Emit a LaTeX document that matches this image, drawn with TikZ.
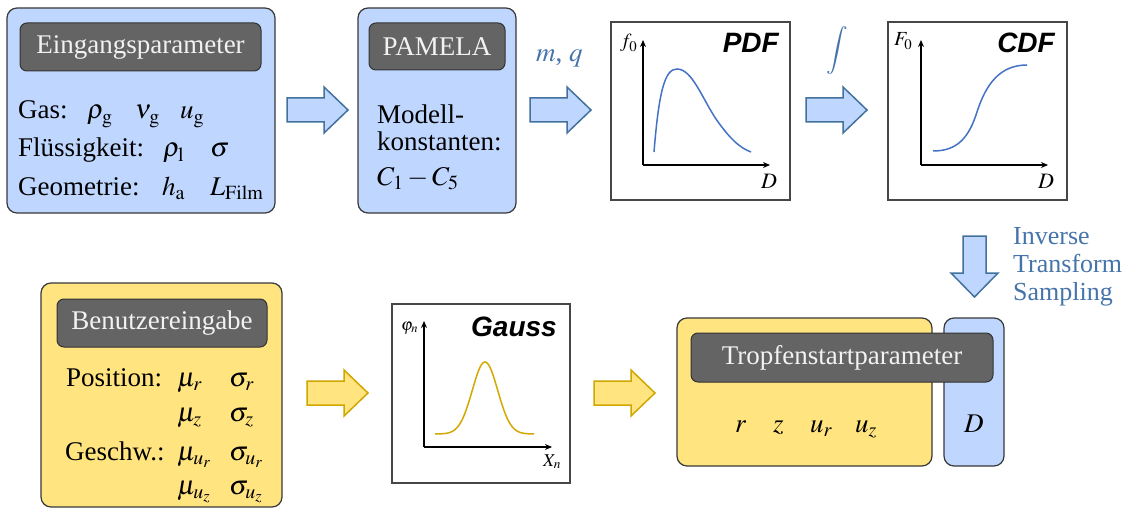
\documentclass[tikz,border=0pt]{standalone}
\usepackage{mathptmx}
\usepackage[no-math]{fontspec}
\setmainfont{Liberation Serif}
\setsansfont{Liberation Sans}
\usetikzlibrary{arrows.meta}
\definecolor{bfill}{RGB}{191,215,255}
\definecolor{bline}{RGB}{65,113,156}
\definecolor{yfill}{RGB}{255,228,128}
\definecolor{yline}{RGB}{208,166,0}
\definecolor{hfill}{RGB}{100,100,100}
\definecolor{tblue}{RGB}{70,116,170}
\definecolor{cblue}{RGB}{68,114,196}
\definecolor{cgold}{RGB}{212,168,0}
\newcommand\rblockarrow[3]{\draw[#1] (#2,#3-12) -- ++(37,0) -- ++(0,-11) -- ++(24,23) -- ++(-24,23) -- ++(0,-11) -- ++(-37,0) -- cycle;}
\tikzset{
  big/.style={font=\fontsize{27}{30}\selectfont},
  panel/.style={draw=black!78, line width=1.2pt, rounded corners=10pt, inner sep=0pt, outer sep=0pt},
  bluepanel/.style={panel, fill=bfill},
  yellowpanel/.style={panel, fill=yfill},
  header/.style={draw=black!80, line width=1pt, fill=hfill, rounded corners=7pt, inner sep=0pt, text=white!95!black, font=\fontsize{27}{30}\selectfont},
  plotbox/.style={draw=black!72, line width=1.2pt, fill=white, inner sep=0pt},
  txt/.style={big, anchor=base west, inner sep=0pt},
  axis/.style={line width=1.1pt, -{Stealth[length=7pt,width=6pt]}},
  bluearrow/.style={draw=bline, fill=bfill, line width=1.5pt, line join=miter},
  yellowarrow/.style={draw=yline, fill=yfill, line width=1.5pt, line join=miter},
  plottitle/.style={font=\fontsize{28}{30}\selectfont\sffamily\bfseries\itshape, anchor=base east, inner sep=0pt},
  axlabel/.style={font=\fontsize{20}{24}\selectfont, anchor=base west, inner sep=0pt},
  bluetxt/.style={font=\fontsize{26}{28}\selectfont\rmfamily, text=tblue, anchor=base west, inner sep=0pt}
}
\begin{document}
\begin{tikzpicture}[x=1pt, y=-1pt]
\useasboundingbox (0,0) rectangle (1135,508);

% ---------- Eingangsparameter ----------
\node[bluepanel, minimum width=268pt, minimum height=205pt] (pin) at (141,110.5) {};
\node[header, minimum width=241pt, minimum height=48pt] (hin) at (140.5,47) {Eingangsparameter};
\node[txt] (gas) at (18,119) {\makebox[69pt][l]{Gas:}\makebox[48pt][l]{$\rho_{\mathrm{g}}$}\makebox[45pt][l]{$\nu_{\mathrm{g}}$}$u_{\mathrm{g}}$};
\node[txt] (fl) at (18,157) {\makebox[145pt][l]{Flüssigkeit:}\makebox[47pt][l]{$\rho_{\mathrm{l}}$}$\sigma$};
\node[txt] (geo) at (18,195) {\makebox[144pt][l]{Geometrie:}\makebox[48pt][l]{$h_{\mathrm{a}}$}$L_{\mathrm{Film}}$};

% ---------- PAMELA ----------
\node[bluepanel, minimum width=158pt, minimum height=205pt] (ppa) at (437,110.5) {};
\node[header, minimum width=136pt, minimum height=47pt] (hpa) at (437,46.5) {PAMELA};
\node[txt] (mod) at (377,124) {Modell-};
\node[txt] (kon) at (377,150) {konstanten:};
\node[txt] (cc) at (377,185) {$C_1 - C_5$};

% ---------- arrows top ----------
\rblockarrow{bluearrow}{287}{110}
\rblockarrow{bluearrow}{530}{110}
\rblockarrow{bluearrow}{806}{110}
\node[bluetxt, font=\fontsize{27}{30}\selectfont] (mq) at (536,62) {$m$, $q$};
\node[text=tblue, inner sep=0pt, font=\fontsize{24}{26}\selectfont] (int) at (837,50) {$\displaystyle\int$};

% ---------- PDF ----------
\node[plotbox, minimum width=179pt, minimum height=178pt] (pdf) at (700.5,111) {};
\coordinate (po) at (643,165);
\coordinate (py) at (643,40);
\coordinate (px) at (770,165);
\draw[axis] (po) -- (py);
\draw[axis] (po) -- (px);
\node[plottitle] (pdft) at (779,53) {PDF};
\node[axlabel] (f0) at (620,48) {$f_0$};
\node[axlabel, font=\fontsize{22}{24}\selectfont] (pdfD) at (761,188) {$D$};
\draw[cblue, line width=1.5pt] (654,152) .. controls (659,90) and (665,69) .. (677,69) .. controls (692,69) and (702,98) .. (716,119) .. controls (730,139) and (740,148) .. (751,152);

% ---------- CDF ----------
\node[plotbox, minimum width=179pt, minimum height=178pt] (cdf) at (977.5,111) {};
\coordinate (co) at (921,165);
\coordinate (cy) at (921,40);
\coordinate (cx) at (1048,165);
\draw[axis] (co) -- (cy);
\draw[axis] (co) -- (cx);
\node[plottitle] (cdft) at (1055,53) {CDF};
\node[axlabel] (F0) at (894,46) {$F_0$};
\node[axlabel, font=\fontsize{22}{24}\selectfont] (cdfD) at (1038,188) {$D$};
\draw[cblue, line width=1.5pt] (933,151) .. controls (958,151) and (969,137) .. (977,112) .. controls (986,84) and (1000,65) .. (1027,65);

% ---------- down arrow + label ----------
\draw[bluearrow] (963,236) -- (986,236) -- (986,273) -- (998,273) -- (974.5,297) -- (951,273) -- (963,273) -- cycle;
\node[bluetxt] (inv) at (1013,244) {Inverse};
\node[bluetxt] (tra) at (1013,272) {Transform};
\node[bluetxt] (sam) at (1013,300) {Sampling};

% ---------- Benutzereingabe ----------
\node[yellowpanel, minimum width=241pt, minimum height=224pt] (pbe) at (161.5,395) {};
\node[header, minimum width=210pt, minimum height=48pt] (hbe) at (162,323) {Benutzereingabe};
\node[txt] (pos) at (66,386) {\makebox[111pt][l]{Position:}\makebox[52pt][l]{$\mu_r$}$\sigma_r$};
\node[txt] (pos2) at (177,421) {\makebox[52pt][l]{$\mu_z$}$\sigma_z$};
\node[txt] (ges) at (65,460) {\makebox[112pt][l]{Geschw.:}\makebox[52pt][l]{$\mu_{u_r}$}$\sigma_{u_r}$};
\node[txt] (ges2) at (177,494) {\makebox[52pt][l]{$\mu_{u_z}$}$\sigma_{u_z}$};

% ---------- arrows bottom ----------
\rblockarrow{yellowarrow}{307}{393}
\rblockarrow{yellowarrow}{594}{393}

% ---------- Gauss ----------
\node[plotbox, minimum width=178pt, minimum height=179pt] (gau) at (481,393.5) {};
\coordinate (go) at (424,447);
\coordinate (gy) at (424,321);
\coordinate (gx) at (552,447);
\draw[axis] (go) -- (gy);
\draw[axis] (go) -- (gx);
\node[plottitle] (gaut) at (557,336) {Gauss};
\node[axlabel, font=\fontsize{17}{20}\selectfont] (phi) at (401,330) {$\varphi_n$};
\node[axlabel, font=\fontsize{18}{20}\selectfont] (Xn) at (543,466) {$X_n$};
\draw[cgold, line width=1.5pt] plot[domain=435:534, samples=90, smooth] (\x, {434-72*exp(-((\x-485)*(\x-485))/323)});

% ---------- Tropfenstartparameter ----------
\node[yellowpanel, minimum width=255pt, minimum height=148pt] (ptr) at (804.5,392) {};
\node[bluepanel, minimum width=60pt, minimum height=148pt] (pD) at (974,392) {};
\node[header, minimum width=302pt, minimum height=49pt] (htr) at (842,357.5) {Tropfenstartparameter};
\node[txt] (vars) at (735,432) {\makebox[38pt][l]{$r$}\makebox[37pt][l]{$z$}\makebox[45pt][l]{$u_r$}$u_z$};
\node[txt] (DD) at (964,432) {$D$};
\end{tikzpicture}
\end{document}
